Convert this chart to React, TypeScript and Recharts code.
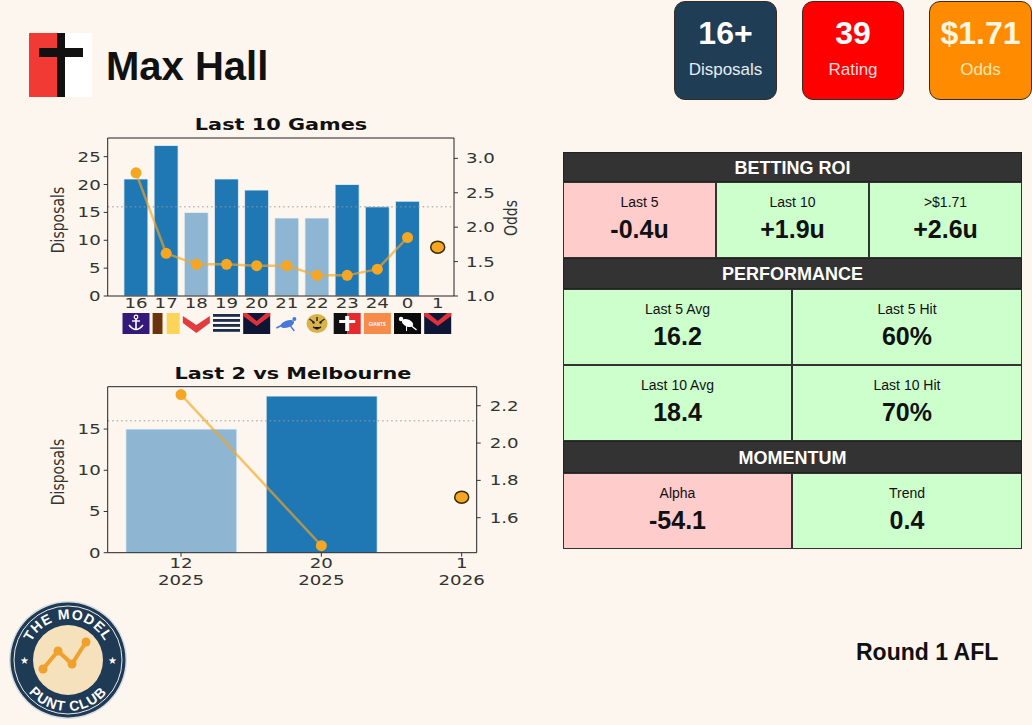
import React from 'react';
import { ComposedChart, Bar, Line, XAxis, YAxis, ReferenceLine, Cell } from 'recharts';

// last 10 games
const ROUNDS = ['16', '17', '18', '19', '20', '21', '22', '23', '24', '0', '1'];
const OPPONENTS = ['FRE', 'HAW', 'SYD', 'GEE', 'MEL', 'NM', 'RIC', 'STK', 'GWS', 'COL', 'MEL'];
const DISPOSALS = [21, 27, 15, 21, 19, 14, 14, 20, 16, 17, null];
const ODDS = [2.79, 1.62, 1.46, 1.46, 1.44, 1.44, 1.3, 1.3, 1.39, 1.85, null];
const NEXT_ODDS = 1.71;
const LINE_VALUE = 16;

// head to head vs Melbourne
const H2H_ROUNDS = ['12', '20', '1'];
const H2H_YEARS = ['2025', '2025', '2026'];
const H2H_DISPOSALS = [15, 19, null];
const H2H_ODDS = [2.26, 1.45, null];

const LEFT_TICKS = [0, 5, 10, 15, 20, 25];
const RIGHT_TICKS = [1.0, 1.5, 2.0, 2.5, 3.0];
const H2H_LEFT_TICKS = [0, 5, 10, 15];
const H2H_RIGHT_TICKS = [1.6, 1.8, 2.0, 2.2];

const ROI_LABELS = ['Last 5', 'Last 10', '>$1.71'];
const ROI_VALUES = ['-0.4u', '+1.9u', '+2.6u'];
const ROI_GOOD = [false, true, true];
const PERF_LABELS = ['Last 5 Avg', 'Last 5 Hit', 'Last 10 Avg', 'Last 10 Hit'];
const PERF_VALUES = ['16.2', '60%', '18.4', '70%'];
const MOM_LABELS = ['Alpha', 'Trend'];
const MOM_VALUES = ['-54.1', '0.4'];
const MOM_GOOD = [false, true];

const BG = '#fdf6ee';
const DARK_BAR = '#1f77b4';
const LIGHT_BAR = '#8eb6d3';
const ORANGE = '#f5a623';
const CHART_FONT = 'DejaVu Sans, sans-serif';
const UI_FONT = 'Liberation Sans, Arial, sans-serif';
// the chart images in the card are stretched sideways
const STRETCH = 1.3;

const lastTen = ROUNDS.map((round, i) => ({
  idx: i,
  round,
  disposals: DISPOSALS[i],
  odds: ODDS[i],
  next: i === ROUNDS.length - 1 ? NEXT_ODDS : null,
}));

const h2h = H2H_ROUNDS.map((round, i) => ({
  idx: i,
  round,
  year: H2H_YEARS[i],
  disposals: H2H_DISPOSALS[i],
  odds: H2H_ODDS[i],
  next: i === H2H_ROUNDS.length - 1 ? NEXT_ODDS : null,
}));

const TeamIcon = ({ team, x, y }: { team: string; x: number; y: number }) => {
  const w = 27;
  const h = 21;
  let body: React.ReactNode = null;
  switch (team) {
    case 'FRE':
      body = (
        <>
          <rect width={w} height={h} fill="#35197a" />
          <circle cx={13.5} cy={4} r={1.8} fill="none" stroke="#fff" strokeWidth={1.2} />
          <line x1={13.5} y1={6} x2={13.5} y2={17} stroke="#fff" strokeWidth={1.6} />
          <line x1={9.5} y1={8} x2={17.5} y2={8} stroke="#fff" strokeWidth={1.4} />
          <path d="M6.5 12 Q13.5 21 20.5 12" fill="none" stroke="#fff" strokeWidth={1.5} />
        </>
      );
      break;
    case 'HAW':
      body = (
        <>
          <rect width={w} height={h} fill="#fcd45a" />
          <rect width={10} height={h} fill="#6a3410" />
          <rect x={10} width={4} height={h} fill="#fdf6ee" />
        </>
      );
      break;
    case 'SYD':
      body = (
        <>
          <rect width={w} height={h} fill="#fdf6ee" />
          <polygon points="0,3 13.5,12 27,3 27,10 13.5,20 0,10" fill="#e43b3f" />
        </>
      );
      break;
    case 'GEE':
      body = (
        <>
          <rect width={w} height={h} fill="#fdf6ee" />
          {[1, 6, 11, 16].map((sy) => (
            <rect key={sy} y={sy} width={w} height={2.8} fill="#1c2c4c" />
          ))}
        </>
      );
      break;
    case 'MEL':
      body = (
        <>
          <rect width={w} height={h} fill="#0f1535" />
          <polygon points="0,0 4,0 13.5,8 23,0 27,0 27,3 13.5,13 0,3" fill="#e0313b" />
        </>
      );
      break;
    case 'NM':
      body = (
        <>
          <rect width={w} height={h} fill="#fdf6ee" />
          <ellipse cx={14} cy={11} rx={7} ry={3.5} fill="#4a78d8" transform="rotate(-20 14 11)" />
          <line x1={3} y1={15} x2={9} y2={12} stroke="#4a78d8" strokeWidth={1.5} />
          <line x1={17} y1={13} x2={21} y2={18} stroke="#4a78d8" strokeWidth={1.3} />
          <circle cx={21} cy={6} r={2} fill="#4a78d8" />
        </>
      );
      break;
    case 'RIC':
      body = (
        <>
          <rect width={w} height={h} fill="#fdf6ee" />
          <ellipse cx={13.5} cy={10.5} rx={10.5} ry={9.5} fill="#d9b24a" />
          <path d="M6 6 L10 9 M21 6 L17 9 M9.5 14 L13.5 16 L17.5 14 M13.5 4 L13.5 8" stroke="#222" strokeWidth={1.4} />
          <circle cx={10} cy={9.5} r={1.2} fill="#222" />
          <circle cx={17} cy={9.5} r={1.2} fill="#222" />
        </>
      );
      break;
    case 'STK':
      body = (
        <>
          <rect width={13.5} height={h} fill="#111" />
          <rect x={13.5} width={13.5} height={h} fill="#e42a2a" />
          <polygon points="11.5,3 15.5,3 15.5,7 21.5,7 21.5,10 15.5,10 15.5,18 11.5,18 11.5,10 5.5,10 5.5,7 11.5,7" fill="#fff" />
        </>
      );
      break;
    case 'GWS':
      body = (
        <>
          <rect width={w} height={h} fill="#f78c4a" />
          <text x={13.5} y={12.5} textAnchor="middle" fontSize={4.5} fontWeight={700} fill="#fff" fontFamily={UI_FONT}>
            GIANTS
          </text>
        </>
      );
      break;
    case 'COL':
      body = (
        <>
          <rect width={w} height={h} fill="#0a0a0a" />
          <ellipse cx={13.5} cy={10} rx={6} ry={3.5} fill="#fff" transform="rotate(25 13.5 10)" />
          <circle cx={7} cy={6} r={2.2} fill="#fff" />
          <line x1={17.5} y1={13} x2={22.5} y2={17} stroke="#fff" strokeWidth={1.4} />
          <line x1={12.5} y1={13} x2={12.5} y2={18} stroke="#fff" strokeWidth={1} />
        </>
      );
      break;
    default:
      body = <rect width={w} height={h} fill="#ccc" />;
  }
  return <g transform={`translate(${x},${y})`}>{body}</g>;
};

const StretchText = ({ x, y, anchor, children }: { x: number; y: number; anchor: string; children: React.ReactNode }) => (
  <text
    transform={`translate(${x},${y}) scale(${STRETCH},1)`}
    textAnchor={anchor}
    fontSize={14}
    fill="#333"
    fontFamily={CHART_FONT}
  >
    {children}
  </text>
);

const GameTick = (props: any) => {
  const { x, y, payload } = props;
  const i = payload.value as number;
  return (
    <g>
      <StretchText x={x} y={y + 12} anchor="middle">
        {ROUNDS[i]}
      </StretchText>
      <TeamIcon team={OPPONENTS[i]} x={x - 13.5} y={y + 17} />
    </g>
  );
};

const H2HTick = (props: any) => {
  const { x, y, payload } = props;
  const i = payload.value as number;
  return (
    <g>
      <StretchText x={x} y={y + 11} anchor="middle">
        {H2H_ROUNDS[i]}
      </StretchText>
      <StretchText x={x} y={y + 28} anchor="middle">
        {H2H_YEARS[i]}
      </StretchText>
    </g>
  );
};

const ValueTick = (props: any) => {
  const { x, y, payload, textAnchor, decimals } = props;
  const v = payload.value as number;
  return (
    <StretchText x={x} y={y + 5} anchor={textAnchor}>
      {decimals ? v.toFixed(decimals) : String(v)}
    </StretchText>
  );
};

const NextDot = (props: any) => {
  const { cx, cy } = props;
  if (cx == null || cy == null || props.value == null) return null;
  return <ellipse cx={cx} cy={cy} rx={7} ry={6} fill={ORANGE} stroke="#3b2a05" strokeWidth={1.5} />;
};

const OddsDot = (props: any) => {
  const { cx, cy } = props;
  if (cx == null || cy == null || props.value == null) return null;
  return <circle cx={cx} cy={cy} r={5.5} fill={ORANGE} />;
};

const LastTenChart = () => (
  <ComposedChart width={540} height={250} data={lastTen} margin={{ top: 38, right: 26, bottom: 9, left: 47.7 }}>
    <XAxis
      xAxisId="x"
      type="number"
      dataKey="idx"
      domain={[-0.938, 10.54]}
      ticks={ROUNDS.map((_, i) => i)}
      interval={0}
      allowDataOverflow
      tick={<GameTick />}
      tickLine={false}
      tickSize={0}
      tickMargin={0}
      height={45}
      axisLine={{ stroke: '#222' }}
    />
    <YAxis
      yAxisId="l"
      domain={[0, 28.35]}
      ticks={LEFT_TICKS}
      allowDataOverflow
      width={60}
      tick={<ValueTick />}
      tickSize={4}
      tickMargin={3}
      tickLine={{ stroke: '#333' }}
      axisLine={{ stroke: '#222' }}
    />
    <YAxis
      yAxisId="r"
      orientation="right"
      domain={[1, 3.296]}
      ticks={RIGHT_TICKS}
      allowDataOverflow
      width={60}
      tick={<ValueTick decimals={1} />}
      tickSize={4}
      tickMargin={8}
      tickLine={{ stroke: '#333' }}
      axisLine={{ stroke: '#222' }}
    />
    <ReferenceLine xAxisId="x" yAxisId="l" y={28.35} stroke="#222" />
    <ReferenceLine xAxisId="x" yAxisId="l" y={LINE_VALUE} stroke="#999" strokeDasharray="1.5 3" />
    <Bar xAxisId="x" yAxisId="l" dataKey="disposals" barSize={24} isAnimationActive={false} stroke="#eef4f8" strokeWidth={0.8}>
      {lastTen.map((d, i) => (
        <Cell key={`c-${i}`} fill={d.disposals != null && d.disposals >= LINE_VALUE ? DARK_BAR : LIGHT_BAR} />
      ))}
    </Bar>
    <Line
      xAxisId="x"
      yAxisId="r"
      dataKey="odds"
      stroke={ORANGE}
      strokeOpacity={0.65}
      strokeWidth={2.5}
      dot={<OddsDot />}
      activeDot={false}
      isAnimationActive={false}
    />
    <Line
      xAxisId="x"
      yAxisId="r"
      dataKey="next"
      stroke="none"
      dot={<NextDot />}
      activeDot={false}
      isAnimationActive={false}
    />
  </ComposedChart>
);

const H2HChart = () => (
  <ComposedChart width={540} height={250} data={h2h} margin={{ top: 36.7, right: 3.3, bottom: 7.3, left: 47.7 }}>
    <XAxis
      xAxisId="x"
      type="number"
      dataKey="idx"
      domain={[-0.5225, 2.107]}
      ticks={[0, 1, 2]}
      interval={0}
      allowDataOverflow
      tick={<H2HTick />}
      tickSize={4}
      tickMargin={0}
      tickLine={{ stroke: '#333' }}
      height={40}
      axisLine={{ stroke: '#222' }}
    />
    <YAxis
      yAxisId="l"
      domain={[0, 20.14]}
      ticks={H2H_LEFT_TICKS}
      allowDataOverflow
      width={60}
      tick={<ValueTick />}
      tickSize={4}
      tickMargin={3}
      tickLine={{ stroke: '#333' }}
      axisLine={{ stroke: '#222' }}
    />
    <YAxis
      yAxisId="r"
      orientation="right"
      domain={[1.4125, 2.302]}
      ticks={H2H_RIGHT_TICKS}
      allowDataOverflow
      width={60}
      tick={<ValueTick decimals={1} />}
      tickSize={4}
      tickMargin={9}
      tickLine={{ stroke: '#333' }}
      axisLine={{ stroke: '#222' }}
    />
    <ReferenceLine xAxisId="x" yAxisId="l" y={20.14} stroke="#222" />
    <ReferenceLine xAxisId="x" yAxisId="l" y={LINE_VALUE} stroke="#999" strokeDasharray="1.5 3" />
    <Bar xAxisId="x" yAxisId="l" dataKey="disposals" barSize={111} isAnimationActive={false} stroke="#eef4f8" strokeWidth={0.8}>
      {h2h.map((d, i) => (
        <Cell key={`h-${i}`} fill={d.disposals != null && d.disposals >= LINE_VALUE ? DARK_BAR : LIGHT_BAR} />
      ))}
    </Bar>
    <Line
      xAxisId="x"
      yAxisId="r"
      dataKey="odds"
      stroke={ORANGE}
      strokeOpacity={0.65}
      strokeWidth={2.5}
      dot={<OddsDot />}
      activeDot={false}
      isAnimationActive={false}
    />
    <Line
      xAxisId="x"
      yAxisId="r"
      dataKey="next"
      stroke="none"
      dot={<NextDot />}
      activeDot={false}
      isAnimationActive={false}
    />
  </ComposedChart>
);

const abs = (left: number, top: number, extra: React.CSSProperties = {}): React.CSSProperties => ({
  position: 'absolute',
  left,
  top,
  ...extra,
});

const StatBox = ({ left, width, bg, value, label, valueColor, labelColor }: any) => (
  <div
    style={abs(left, 1, {
      width,
      height: 99,
      boxSizing: 'border-box',
      background: bg,
      border: '1.5px solid #3a2a22',
      borderRadius: 11,
      fontFamily: UI_FONT,
      textAlign: 'center',
    })}
  >
    <div style={{ position: 'absolute', left: 0, right: 0, top: 12, fontSize: 32, fontWeight: 700, color: valueColor, lineHeight: '38px' }}>
      {value}
    </div>
    <div style={{ position: 'absolute', left: 0, right: 0, top: 57, fontSize: 17, color: labelColor, lineHeight: '22px' }}>{label}</div>
  </div>
);

const TableHeader = ({ top, height, text }: { top: number; height: number; text: string }) => (
  <div
    style={abs(0, top, {
      width: 459,
      height,
      background: '#333',
      color: '#fff',
      fontWeight: 700,
      fontSize: 18,
      textAlign: 'center',
      lineHeight: `${height}px`,
      boxSizing: 'border-box',
      border: '1px solid #222',
    })}
  >
    {text}
  </div>
);

const TableCell = ({ left, top, width, height, label, value, good }: any) => (
  <div
    style={abs(left, top, {
      width,
      height,
      background: good ? '#ccffcc' : '#ffcccc',
      boxSizing: 'border-box',
      border: '1px solid #333',
      textAlign: 'center',
      color: '#111',
    })}
  >
    <div style={{ position: 'absolute', left: 0, right: 0, top: 10, fontSize: 14, lineHeight: '18px' }}>{label}</div>
    <div style={{ position: 'absolute', left: 0, right: 0, top: 31, fontSize: 25, fontWeight: 700, lineHeight: '30px' }}>{value}</div>
  </div>
);

const ClubLogo = () => (
  <svg width={140} height={135} style={abs(0, 590)}>
    <defs>
      <path id="topArc" d="M 27 70 A 41 41 0 0 1 109 70" />
      <path id="botArc" d="M 17 70 A 51 51 0 0 0 119 70" />
    </defs>
    <circle cx={68} cy={70} r={59} fill="#d8dde2" />
    <circle cx={68} cy={70} r={57.5} fill="#1f3a55" />
    <circle cx={68} cy={70} r={54} fill="none" stroke="#e8e8e8" strokeWidth={1} />
    <circle cx={68} cy={70} r={35} fill="#f6e1bd" />
    <text fontFamily={UI_FONT} fontWeight={700} fontSize={14} fill="#fff" letterSpacing={1}>
      <textPath href="#topArc" startOffset="50%" textAnchor="middle">
        THE MODEL
      </textPath>
    </text>
    <text fontFamily={UI_FONT} fontWeight={700} fontSize={14} fill="#fff" letterSpacing={1}>
      <textPath href="#botArc" startOffset="50%" textAnchor="middle">
        PUNT CLUB
      </textPath>
    </text>
    <text x={24} y={74} fontSize={10} fill="#fff" textAnchor="middle">★</text>
    <text x={112} y={74} fontSize={10} fill="#fff" textAnchor="middle">★</text>
    <polyline points="43,79 58,61 72,74 86,52" fill="none" stroke="#f0a02c" strokeWidth={4} strokeLinejoin="round" />
    {[
      [43, 79],
      [58, 61],
      [72, 74],
      [86, 52],
    ].map(([cx, cy]) => (
      <circle key={`${cx}`} cx={cx} cy={cy} r={4.5} fill="#f0a02c" />
    ))}
  </svg>
);

const rotatedLabel = (x: number, y: number, text: string) => (
  <div
    style={abs(x, y, {
      transform: `translate(-50%, -50%) scaleX(${STRETCH}) rotate(-90deg)`,
      fontFamily: CHART_FONT,
      fontSize: 14,
      color: '#333',
      whiteSpace: 'nowrap',
      lineHeight: '16px',
    })}
  >
    {text}
  </div>
);

const chartTitle = (x: number, y: number, text: string) => (
  <div
    style={abs(x, y, {
      transform: `translate(-50%, -50%) scaleX(${STRETCH})`,
      fontFamily: CHART_FONT,
      fontWeight: 700,
      fontSize: 16,
      color: '#111',
      whiteSpace: 'nowrap',
    })}
  >
    {text}
  </div>
);

export default function App() {
  return (
    <div style={{ position: 'absolute', left: 0, top: 0, width: 1032, height: 725, background: BG, overflow: 'hidden', fontFamily: UI_FONT }}>
      {/* header logo */}
      <div style={abs(29, 33, { width: 28, height: 64, background: '#f23a35' })} />
      <div style={abs(57, 33, { width: 8, height: 64, background: '#111' })} />
      <div style={abs(65, 33, { width: 27, height: 64, background: '#fff' })} />
      <div style={abs(39, 48, { width: 44, height: 9, background: '#111' })} />
      <div style={abs(106, 36, { fontSize: 40, fontWeight: 700, color: '#111', lineHeight: '60px' })}>Max Hall</div>

      <StatBox left={674} width={103} bg="#1f3d54" value="16+" label="Disposals" valueColor="#fff" labelColor="#e6edf2" />
      <StatBox left={802} width={102} bg="#ff0000" value="39" label="Rating" valueColor="#fff" labelColor="#ffdede" />
      <StatBox left={929} width={103} bg="#ff8c00" value="$1.71" label="Odds" valueColor="#fff6e0" labelColor="#ffe6b0" />

      {chartTitle(281, 124, 'Last 10 Games')}
      {rotatedLabel(57, 220, 'Disposals')}
      {rotatedLabel(510, 218, 'Odds')}
      <div style={abs(0, 100)}>
        <LastTenChart />
      </div>

      {chartTitle(293, 373, 'Last 2 vs Melbourne')}
      {rotatedLabel(57, 472, 'Disposals')}
      <div style={abs(0, 350)}>
        <H2HChart />
      </div>

      {/* stats table */}
      <div style={abs(563, 152, { width: 459, height: 397 })}>
        <TableHeader top={0} height={30} text="BETTING ROI" />
        {ROI_LABELS.map((l, i) => (
          <TableCell key={l} left={i * 153} top={30} width={153} height={76} label={l} value={ROI_VALUES[i]} good={ROI_GOOD[i]} />
        ))}
        <TableHeader top={106} height={31} text="PERFORMANCE" />
        {PERF_LABELS.map((l, i) => (
          <TableCell
            key={l}
            left={(i % 2) * 229}
            top={137 + Math.floor(i / 2) * 76}
            width={i % 2 ? 230 : 229}
            height={76}
            label={l}
            value={PERF_VALUES[i]}
            good
          />
        ))}
        <TableHeader top={289} height={32} text="MOMENTUM" />
        {MOM_LABELS.map((l, i) => (
          <TableCell key={l} left={i * 229} top={321} width={i ? 230 : 229} height={76} label={l} value={MOM_VALUES[i]} good={MOM_GOOD[i]} />
        ))}
      </div>

      <ClubLogo />
      <div style={abs(856, 637, { fontSize: 23, fontWeight: 700, color: '#111', lineHeight: '30px' })}>Round 1 AFL</div>
    </div>
  );
}
